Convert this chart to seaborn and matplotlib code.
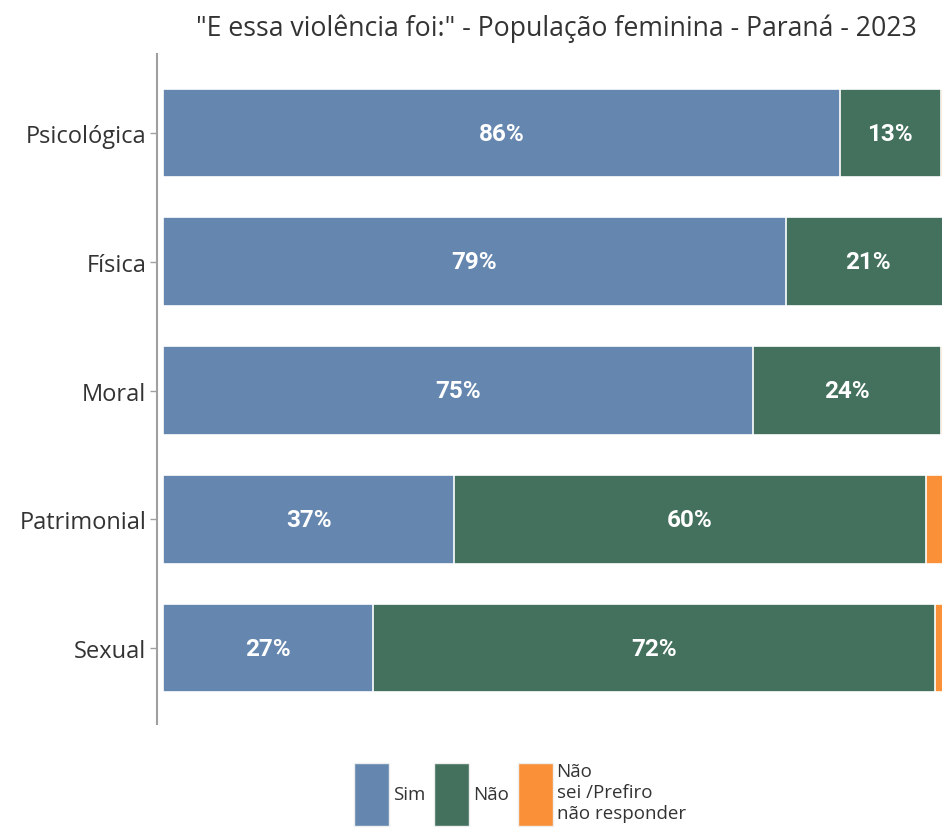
import matplotlib
matplotlib.use("Agg")
import matplotlib.pyplot as plt
import seaborn as sns
import pandas as pd
from matplotlib.patches import Patch

categories = ["Psicológica", "Física", "Moral", "Patrimonial", "Sexual"]
sim = [86.0, 79.1, 75.0, 37.0, 26.7]
nao = [12.8, 20.9, 23.8, 59.9, 71.4]
nao_sei = [1.2, 0.0, 1.2, 3.1, 1.9]
sim_labels = ["86%", "79%", "75%", "37%", "27%"]
nao_labels = ["13%", "21%", "24%", "60%", "72%"]
series_names = ["Sim", "Não", "Não\nsei /Prefiro\nnão responder"]
title = '"E essa violência foi:" - População feminina - Paraná - 2023'

c_sim = "#6587AF"
c_nao = "#43715E"
c_ns = "#FA9038"

sns.set_style("white")
plt.rcParams["font.family"] = ["Open Sans", "DejaVu Sans"]

df = pd.DataFrame({"cat": categories, "sim": sim, "nao": nao, "ns": nao_sei})
df["t_nao"] = df["sim"] + df["nao"]
df["t_ns"] = df["t_nao"] + df["ns"]

fig = plt.figure(figsize=(9.42, 8.29), dpi=100)
ax = fig.add_axes([163 / 942, 1 - 725 / 829, 787 / 942, 670 / 829])

bw = 0.69
for col, c in [("t_ns", c_ns), ("t_nao", c_nao), ("sim", c_sim)]:
    sns.barplot(data=df, x=col, y="cat", orient="h", color=c, width=bw,
                saturation=1, edgecolor="white", linewidth=1.2, ax=ax)

ax.set_xlim(0, 100)
ax.set_ylim(4.59, -0.614)

lab_font = ["Roboto", "DejaVu Sans"]
for i in range(len(categories)):
    ax.text(sim[i] / 2, i, sim_labels[i], ha="center", va="center",
            color="white", fontsize=17.5, fontweight="bold", family=lab_font)
    ax.text(sim[i] + nao[i] / 2, i, nao_labels[i], ha="center", va="center",
            color="white", fontsize=17.5, fontweight="bold", family=lab_font)

ax.set_xlabel("")
ax.set_ylabel("")
ax.set_xticks([])
for s in ["top", "right", "bottom"]:
    ax.spines[s].set_visible(False)
ax.spines["left"].set_position(("outward", 4))
ax.spines["left"].set_color("#A0A0A0")
ax.spines["left"].set_linewidth(1.5)
ax.tick_params(axis="y", left=True, length=5, width=1, color="#A0A0A0",
               labelsize=17, labelcolor="#333333", pad=3)

fig.text(556 / 942, 1 - 29 / 829, title, ha="center", va="center",
         fontsize=19.2, color="#333333")

handles = [Patch(facecolor=c, edgecolor="#EEEEEE") for c in [c_sim, c_nao, c_ns]]
fig.legend(handles, series_names, loc="center", bbox_to_anchor=(520 / 942, 1 - 795 / 829),
           ncol=3, frameon=False, fontsize=13.5, handlelength=1.85, handleheight=4.8,
           handletextpad=0.2, columnspacing=0.5, labelcolor="#333333",
           borderpad=0.1)

fig.savefig("out.png", dpi=100)
